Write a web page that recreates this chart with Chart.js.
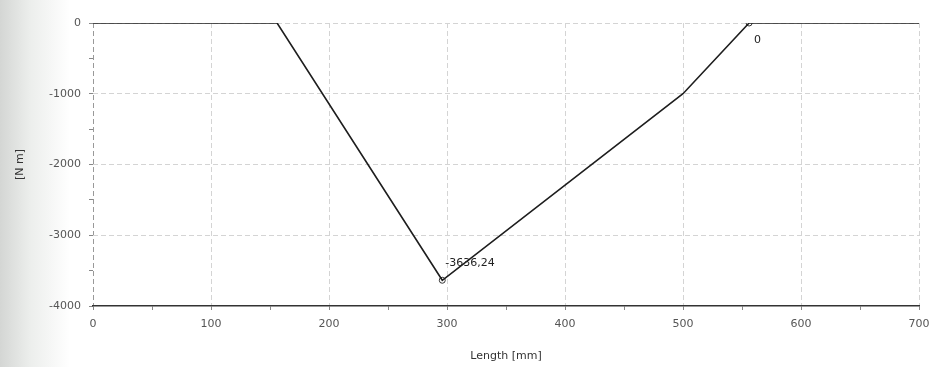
<!DOCTYPE html>
<html>
<head>
<meta charset="utf-8">
<script src="https://cdn.jsdelivr.net/npm/chart.js@4"></script>
<style>
  html, body { margin: 0; padding: 0; }
  body { width: 934px; height: 367px; background: linear-gradient(to right, #d4d6d4 0px, #eceeec 30px, #ffffff 70px); }
  #wrap { width: 934px; height: 367px; position: relative; }
</style>
</head>
<body>
<div id="wrap"><canvas id="moment" width="934" height="367"></canvas></div>
<script>
// moment along the length
var lengthMm = [0, 156, 296, 500, 556, 700];
var momentNm = [0, 0, -3636.24, -1000, 0, 0];
// marked points + their labels
var markX = [296, 556];
var markY = [-3636.24, 0];
var markText = ['-3636,24', '0'];
// tick labels
var xTicks = [0, 100, 200, 300, 400, 500, 600, 700];
var yTicks = [0, -1000, -2000, -3000, -4000];

var tickFont = { family: 'DejaVu Sans', size: 11 };

// label writer for the two marked points
var markLabels = {
  id: 'markLabels',
  afterDatasetsDraw: function (chart) {
    var c = chart.ctx, xs = chart.scales.x, ys = chart.scales.y;
    c.save();
    c.font = '11px "DejaVu Sans"';
    c.fillStyle = '#222';
    c.textBaseline = 'middle';
    for (var i = 0; i < markX.length; i++) {
      var px = xs.getPixelForValue(markX[i]);
      var py = ys.getPixelForValue(markY[i]);
      if (markY[i] < -100) {
        c.fillText(markText[i], px + 3, py - 17);
      } else {
        c.fillText(markText[i], px + 5, py + 17);
      }
    }
    c.restore();
  }
};

new Chart(document.getElementById('moment'), {
  type: 'scatter',
  data: {
    datasets: [{
      data: lengthMm.map(function (x, i) { return { x: x, y: momentNm[i] }; }),
      showLine: true,
      borderColor: '#1e1e1e',
      borderWidth: 1.6,
      pointRadius: 0
    }, {
      data: markX.map(function (x, i) { return { x: x, y: markY[i] }; }),
      showLine: false,
      pointRadius: 3,
      borderColor: '#333',
      borderWidth: 1,
      backgroundColor: '#fff'
    }]
  },
  plugins: [markLabels],
  options: {
    responsive: false,
    animation: false,
    devicePixelRatio: 1,
    layout: { padding: { top: 23, right: 15, left: 0, bottom: 0 } },
    plugins: { legend: { display: false }, tooltip: { enabled: false } },
    scales: {
      x: {
        type: 'linear',
        min: 0, max: 700,
        afterFit: function (s) { s.height = 61; s.paddingRight = 0; },
        ticks: {
          stepSize: 50,
          autoSkip: false,
          maxRotation: 0,
          color: '#555',
          font: tickFont,
          padding: 8,
          callback: function (v) { return xTicks.indexOf(v) >= 0 ? String(v) : ''; }
        },
        grid: {
          color: function (ctx) {
            if (!ctx.tick) return 'rgba(0,0,0,0)';
            if (ctx.tick.value === 0) return '#999';
            return ctx.tick.value % 100 === 0 ? '#d4d4d4' : 'rgba(0,0,0,0)';
          },
          tickColor: '#888',
          tickLength: 4,
          lineWidth: 1
        },
        border: { display: true, color: '#333', width: 1.5, dash: [5, 3] },
        title: { display: true, text: 'Length [mm]', color: '#333', font: { family: 'DejaVu Sans', size: 11 }, padding: { top: 0 } }
      },
      y: {
        type: 'linear',
        min: -4000, max: 0,
        afterFit: function (s) { s.width = 93; s.paddingTop = 0; s.paddingBottom = 0; },
        ticks: {
          stepSize: 500,
          autoSkip: false,
          color: '#555',
          font: tickFont,
          padding: 8,
          callback: function (v) { return yTicks.indexOf(v) >= 0 ? String(v) : ''; }
        },
        grid: {
          color: function (ctx) { return (ctx.tick && ctx.tick.value % 1000 === 0 && ctx.tick.value > -4000) ? '#d4d4d4' : 'rgba(0,0,0,0)'; },
          tickColor: '#888',
          tickLength: 4,
          lineWidth: 1
        },
        border: { display: false, dash: [5, 3] },
        title: { display: true, text: '[N m]', color: '#333', font: { family: 'DejaVu Sans', size: 11 }, padding: { top: 14, bottom: 0 } }
      }
    }
  }
});
</script>
</body>
</html>
